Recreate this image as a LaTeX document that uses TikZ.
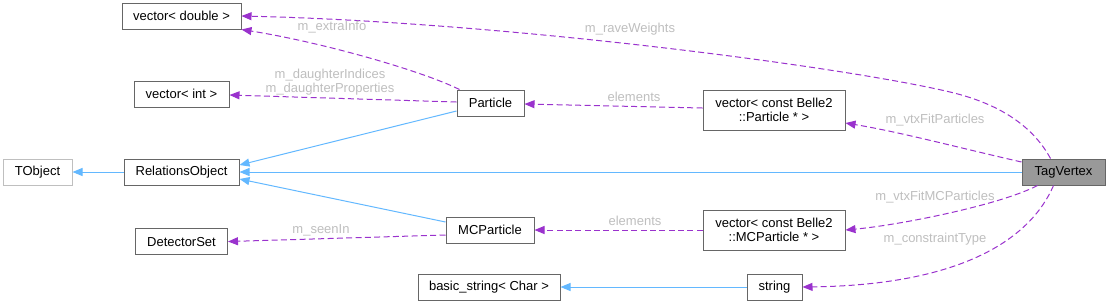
\documentclass[tikz,border=0pt]{standalone}
\usepackage{fontspec}
\setmainfont{Liberation Sans}
\usepackage{xcolor}
\definecolor{UsePurple}{HTML}{9A32CD}
\definecolor{InhBlue}{HTML}{63B8FF}
\definecolor{LblGray}{HTML}{BEBEBE}
\definecolor{BoxEdge}{HTML}{666666}
\definecolor{ExtEdge}{HTML}{BFBFBF}
\definecolor{MainFill}{HTML}{999999}
\usepackage{tikz}
\usetikzlibrary{positioning,calc,arrows.meta}
\tikzset{
  cls/.style={draw=BoxEdge,fill=white,line width=0.75pt,inner sep=0pt,
    minimum height=19.5pt,align=center,font=\fontsize{9.75}{10.7}\selectfont},
  clsx/.style={cls,draw=ExtEdge},
  clsm/.style={cls,fill=MainFill},
  cls2/.style={cls,minimum height=30pt,minimum width=106.5pt},
  inh/.style={-{Triangle[length=7.5pt,width=6pt]},draw=InhBlue,line width=0.75pt},
  use/.style={-{Triangle[length=7.5pt,width=6pt,line width=0.75pt,sep=0pt]},draw=UsePurple,
    line width=0.75pt,dash pattern=on 4.5pt off 2.5pt},
  lbl/.style={font=\fontsize{9.75}{10.5}\selectfont,text=LblGray,inner sep=0pt,align=center},
}

\begin{document}
\begin{tikzpicture}[x=0.75pt,y=-0.75pt,node distance=38.25pt]
\useasboundingbox (0,0) rectangle (1109,305);

% classes
\node[cls,minimum width=86.25pt] (rel) at (181.5,172) {RelationsObject};
\node[clsx,minimum width=51.75pt,left=of rel] (tob) {TObject};
\node[cls,minimum width=71.25pt,above=of rel] (vi) {vector< int >};
\node[cls,minimum width=89.25pt,above=of vi] (vd) {vector< double >};
\node[cls,minimum width=69pt,below=31.9pt of rel] (det) {DetectorSet};
\node[cls,minimum width=50.25pt] (part) at (490.5,103) {Particle};
\node[cls,minimum width=66pt] (mcp) at (490,230) {MCParticle};
\node[cls,minimum width=106.5pt] (bstr) at (489,287) {basic\_string< Char >};
\node[cls2] (vp) at (774,110) {vector< const Belle2\\::Particle * >};
\node[cls2] (vmc) at (774,230) {vector< const Belle2\\::MCParticle * >};
\node[cls,minimum width=41.25pt] (str) at (774.5,287) {string};
\node[clsm,minimum width=62.25pt] (tv) at (1063.5,172) {TagVertex};

% inheritance
\draw[inh] (rel) -- (tob);
\draw[inh] ($(part.west)+(0,8)$) -- ($(rel.east)+(0,-7)$);
\draw[inh] (tv) -- (rel);
\draw[inh] ($(mcp.west)+(0,-8)$) -- ($(rel.east)+(0,7)$);
\draw[inh] (str) -- (bstr);

% members
\draw[use] ($(tv.north)+(-13,0)$) .. controls (1035,130) and (1005,105) .. (950,92)
  .. controls (840,66) and (500,22) .. (vd.east);
\draw[use] ($(tv.west)+(0,-10)$) .. controls (960,148) and (900,132) .. ($(vp.east)+(0,13)$);
\draw[use] ($(tv.south)+(-26,0)$) .. controls (1000,205) and (900,225) .. (vmc.east);
\draw[use] ($(tv.south)+(-10,0)$) .. controls (1030,240) and (960,285) .. (str.east);
\draw[use] ($(part.north west)+(3,0)$) .. controls (420,70) and (320,42) .. (vd.south east);
\draw[use] ($(part.west)+(0,-1)$) -- ($(vi.east)+(0,1)$);
\draw[use] ($(vp.west)+(0,-2)$) -- ($(part.east)+(0,1)$);
\draw[use] (vmc) -- (mcp);
\draw[use] ($(mcp.west)+(0,5)$) -- (det.east);

\node[lbl] (l1) at (630,29) {m\_raveWeights};
\node[lbl] (l2) at (332,27) {m\_extraInfo};
\node[lbl] (l3) at (330,82) {m\_daughterIndices\\m\_daughterProperties};
\node[lbl] (l4) at (634,97) {elements};
\node[lbl] (l5) at (935,120) {m\_vtxFitParticles};
\node[lbl] (l6) at (935,197) {m\_vtxFitMCParticles};
\node[lbl] (l7) at (935,239) {m\_constraintType};
\node[lbl] (l8) at (635,221) {elements};
\node[lbl] (l9) at (321,230) {m\_seenIn};
\end{tikzpicture}
\end{document}
